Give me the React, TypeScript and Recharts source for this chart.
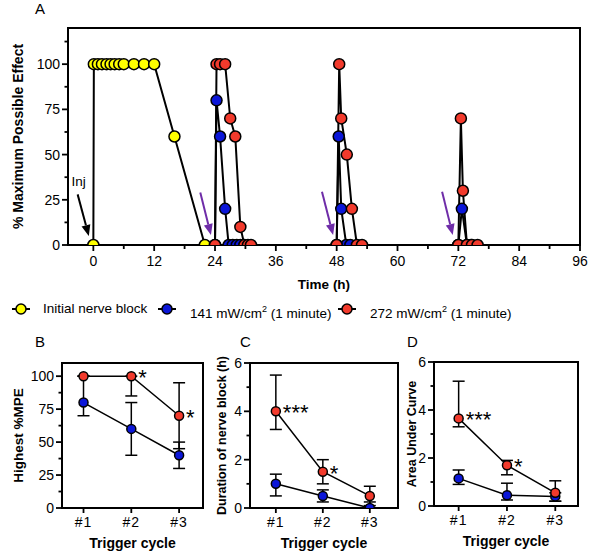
import React from 'react';
import {
  LineChart,
  Line,
  XAxis,
  YAxis,
  ReferenceArea,
  ReferenceLine,
  ErrorBar,
  LabelList,
} from 'recharts';

const YELLOW = '#ffff00';
const BLUE = '#0b16d8';
const RED = '#f23a2c';
const PURPLE = '#6f2da8';

// panel A: time courses (h, %MPE)
const yellowT = [0, 0.1, 0.9, 1.7, 2.6, 3.4, 4.2, 5.1, 6, 8, 10, 12, 16, 22];
const yellowV = [0, 100, 100, 100, 100, 100, 100, 100, 100, 100, 100, 100, 60, 0];

const blueT = [24, 24.3, 25, 26, 26.7, 27.5, 28.3, 29, 38, 48, 48.4, 48.9, 49.9, 50.7, 60, 72, 72.7, 73.7, 74.5];
const blueV = [0, 80, 60, 20, 0, 0, 0, 0, null, 0, 60, 20, 0, 0, null, 0, 20, 0, 0];

const redT = [24, 24.3, 25, 26, 27, 28, 29, 29.8, 30.5, 31.1, 40, 48, 48.5, 48.9, 50, 51, 52, 53, 62, 72, 72.5, 72.9, 73.7, 74.7, 75.8];
const redV = [0, 100, 100, 100, 70, 60, 10, 0, 0, 0, null, 0, 100, 70, 50, 20, 0, 0, null, 0, 70, 30, 0, 0, 0];

const timeTicks = [0, 6, 12, 18, 24, 30, 36, 42, 48, 54, 60, 66, 72, 78, 84, 90, 96];
const mpeTicks = [0, 12.5, 25, 37.5, 50, 62.5, 75, 87.5, 100, 112.5];

// arrows: [t start, %MPE start, t end, %MPE end]
const injArrow = [-3.1, 28, -0.9, 5];
const triggerArrows = [
  [21.1, 29, 23.2, 5.5],
  [45.1, 29.4, 47.3, 5.5],
  [68.8, 29.4, 70.9, 5.5],
];

// panels B-D: per trigger cycle
const cycles = [1, 2, 3];

const highestRed = [100, 100, 70];
const highestRedErr = [[0, 0], [15, 0], [25, 25]];
const highestBlue = [80, 60, 40];
const highestBlueErr = [[10, 20], [20, 20], [10, 10]];
const highestSig = ['', '*', '*'];

const durationRed = [4, 1.5, 0.5];
const durationRedErr = [[0.75, 1.5], [0.5, 0.5], [0.4, 0.4]];
const durationBlue = [1, 0.5, 0];
const durationBlueErr = [[0.5, 0.4], [0.25, 0.25], [0, 0.25]];
const durationSig = ['***', '*', ''];

const aucRed = [3.65, 1.7, 0.55];
const aucRedErr = [[0.35, 1.55], [0.4, 0.2], [0.35, 0.5]];
const aucBlue = [1.15, 0.45, 0.4];
const aucBlueErr = [[0.25, 0.35], [0.2, 0.5], [0.2, 0.15]];
const aucSig = ['***', '*', ''];

const toSeries = (t: number[], v: (number | null)[]) => t.map((x, i) => ({ t: x, v: v[i] }));

const buildPanel = (
  red: number[],
  redErr: number[][],
  blue: number[],
  blueErr: number[][],
  sig: string[],
) =>
  cycles.map((c, i) => ({
    cycle: c,
    red: red[i],
    redErr: redErr[i],
    blue: blue[i],
    blueErr: blueErr[i],
    sig: sig[i],
  }));

const makeYTick = (isMajor: (v: number) => boolean, fontSize: number) => (p: any) => {
  const { x, y, payload } = p;
  const major = isMajor(payload.value);
  return (
    <g>
      <line x1={x} y1={y} x2={x - (major ? 6 : 3.5)} y2={y} stroke="#000" strokeWidth={1.8} />
      {major && (
        <text x={x - 8} y={y} dy={5} textAnchor="end" fontSize={fontSize} fill="#000">
          {payload.value}
        </text>
      )}
    </g>
  );
};

const TimeTick = (p: any) => {
  const { x, y, payload } = p;
  const major = payload.value % 12 === 0;
  return (
    <g>
      <line x1={x} y1={y} x2={x} y2={y + (major ? 6 : 4)} stroke="#000" strokeWidth={1.8} />
      {major && (
        <text x={x} y={y + 21} textAnchor="middle" fontSize={14} fill="#000">
          {payload.value}
        </text>
      )}
    </g>
  );
};

const CycleTick = (p: any) => {
  const { x, y, payload } = p;
  return (
    <g>
      <line x1={x} y1={y} x2={x} y2={y + 5} stroke="#000" strokeWidth={1.8} />
      <text x={x} y={y + 19} textAnchor="middle" fontSize={14} letterSpacing={1} fill="#000">
        {`#${payload.value}`}
      </text>
    </g>
  );
};

const arrowShape = (color: string, text?: string) => (p: any) => {
  const { x1, y1, x2, y2 } = p;
  const a = Math.atan2(y2 - y1, x2 - x1);
  const len = 11;
  const half = 4.5;
  const bx = x2 - len * Math.cos(a);
  const by = y2 - len * Math.sin(a);
  const px = -Math.sin(a) * half;
  const py = Math.cos(a) * half;
  return (
    <g>
      <line x1={x1} y1={y1} x2={bx} y2={by} stroke={color} strokeWidth={2} />
      <polygon points={`${x2},${y2} ${bx + px},${by + py} ${bx - px},${by - py}`} fill={color} />
      {text && (
        <text x={x1 + 1} y={y1 - 8} textAnchor="middle" fontSize={13.5} fill="#000">
          {text}
        </text>
      )}
    </g>
  );
};

const StarLabel = (p: any) => {
  const { value } = p;
  const x = p.x ?? p.viewBox?.x;
  const y = p.y ?? p.viewBox?.y;
  if (!value) return null;
  return (
    <text x={x + 7} y={y + 9} fontSize={22} fill="#000">
      {value}
    </text>
  );
};

const dotStyle = (fill: string, r: number) => ({ r, fill, stroke: '#000', strokeWidth: 1.5 });

const PanelA = () => (
  <LineChart width={600} height={300} margin={{ top: 28, right: 20, bottom: 11, left: 0 }}>
    <XAxis
      type="number"
      dataKey="t"
      domain={[-5, 96]}
      ticks={timeTicks}
      interval={0}
      tickSize={0}
      tickMargin={0}
      axisLine={false}
      tick={TimeTick}
      height={44}
      allowDataOverflow
      label={{ value: 'Time (h)', position: 'insideBottom', offset: 0, style: { fontWeight: 700, fontSize: 13.5, fill: '#000' } }}
    />
    <YAxis
      type="number"
      domain={[0, 120]}
      ticks={mpeTicks}
      interval={0}
      tickSize={0}
      tickMargin={0}
      axisLine={false}
      tick={makeYTick((v) => v % 25 === 0, 14)}
      width={68}
      allowDataOverflow
      label={{
        value: '% Maximum Possible Effect',
        angle: -90,
        position: 'insideLeft',
        offset: 18,
        style: { textAnchor: 'middle', fontWeight: 700, fontSize: 14, fill: '#000' },
      }}
    />
    <ReferenceArea x1={-5} x2={96} y1={0} y2={120} fill="none" stroke="#000" strokeWidth={2} ifOverflow="visible" />
    <Line data={toSeries(yellowT, yellowV)} dataKey="v" stroke="#000" strokeWidth={2} dot={dotStyle(YELLOW, 5.5)} isAnimationActive={false} />
    <Line data={toSeries(blueT, blueV)} dataKey="v" stroke="#000" strokeWidth={2} dot={dotStyle(BLUE, 5.5)} isAnimationActive={false} />
    <Line data={toSeries(redT, redV)} dataKey="v" stroke="#000" strokeWidth={2} dot={dotStyle(RED, 5.5)} isAnimationActive={false} />
    <ReferenceLine
      segment={[{ x: injArrow[0], y: injArrow[1] }, { x: injArrow[2], y: injArrow[3] }]}
      shape={arrowShape('#000', 'Inj')}
      ifOverflow="visible"
    />
    {triggerArrows.map((a, i) => (
      <ReferenceLine
        key={i}
        segment={[{ x: a[0], y: a[1] }, { x: a[2], y: a[3] }]}
        shape={arrowShape(PURPLE)}
        ifOverflow="visible"
      />
    ))}
  </LineChart>
);

type PanelProps = {
  data: any[];
  width: number;
  height: number;
  margin: { top: number; right: number; bottom: number; left: number };
  xDomain: number[];
  yDomain: number[];
  yTicks: number[];
  yMajor: (v: number) => boolean;
  yWidth: number;
  yTitle: string;
  yTitleSize: number;
  yTitleOffset: number;
};

const CyclePanel = ({ data, width, height, margin, xDomain, yDomain, yTicks, yMajor, yWidth, yTitle, yTitleSize, yTitleOffset }: PanelProps) => (
  <LineChart width={width} height={height} data={data} margin={margin}>
    <XAxis
      type="number"
      dataKey="cycle"
      domain={xDomain}
      ticks={cycles}
      interval={0}
      tickSize={0}
      tickMargin={0}
      axisLine={false}
      tick={CycleTick}
      height={40}
      allowDataOverflow
      label={{ value: 'Trigger cycle', position: 'insideBottom', offset: 0, style: { fontWeight: 700, fontSize: 14, fill: '#000' } }}
    />
    <YAxis
      type="number"
      domain={yDomain}
      ticks={yTicks}
      interval={0}
      tickSize={0}
      tickMargin={0}
      axisLine={false}
      tick={makeYTick(yMajor, 14)}
      width={yWidth}
      allowDataOverflow
      label={{
        value: yTitle,
        angle: -90,
        position: 'insideLeft',
        offset: yTitleOffset,
        style: { textAnchor: 'middle', fontWeight: 700, fontSize: yTitleSize, fill: '#000' },
      }}
    />
    <ReferenceArea x1={xDomain[0]} x2={xDomain[1]} y1={yDomain[0]} y2={yDomain[1]} fill="none" stroke="#000" strokeWidth={2} ifOverflow="visible" />
    <Line dataKey="blue" stroke="#000" strokeWidth={1.5} dot={dotStyle(BLUE, 4.5)} isAnimationActive={false}>
      <ErrorBar dataKey="blueErr" direction="y" width={6} stroke="#000" strokeWidth={1.5} />
    </Line>
    <Line dataKey="red" stroke="#000" strokeWidth={1.5} dot={dotStyle(RED, 4.5)} isAnimationActive={false}>
      <ErrorBar dataKey="redErr" direction="y" width={6} stroke="#000" strokeWidth={1.5} />
      <LabelList dataKey="sig" content={StarLabel} />
    </Line>
  </LineChart>
);

const LegendIcon = ({ color }: { color: string }) => (
  <svg width={20} height={14} style={{ display: 'block' }}>
    <line x1={1} y1={7} x2={19} y2={7} stroke="#000" strokeWidth={2} />
    <circle cx={10} cy={7} r={5} fill={color} stroke="#000" strokeWidth={1.5} />
  </svg>
);

const legendItems = [
  { color: YELLOW, label: <>Initial nerve block</>, icon: 11, text: 43 },
  { color: BLUE, label: <>141 mW/cm<sup style={{ fontSize: 9 }}>2</sup> (1 minute)</>, icon: 157, text: 190 },
  { color: RED, label: <>272 mW/cm<sup style={{ fontSize: 9 }}>2</sup> (1 minute)</>, icon: 337, text: 370 },
];

const letter = (ch: string, left: number, top: number) => (
  <div style={{ position: 'absolute', left, top, fontSize: 15 }}>{ch}</div>
);

export default function App() {
  return (
    <div
      style={{
        position: 'fixed',
        left: 0,
        top: 0,
        width: 600,
        height: 555,
        background: '#fff',
        fontFamily: '"Liberation Sans", Arial, sans-serif',
        color: '#000',
      }}
    >
      {letter('A', 35, 0)}
      {letter('B', 35, 333)}
      {letter('C', 240, 333)}
      {letter('D', 407, 333)}
      <div style={{ position: 'absolute', left: 0, top: 0 }}>
        <PanelA />
      </div>
      {legendItems.map((it, i) => (
        <React.Fragment key={i}>
          <div style={{ position: 'absolute', left: it.icon, top: 302 }}>
            <LegendIcon color={it.color} />
          </div>
          <div style={{ position: 'absolute', left: it.text, top: 300, fontSize: 13.5, lineHeight: '18px', whiteSpace: 'nowrap' }}>
            {it.label}
          </div>
        </React.Fragment>
      ))}
      <div style={{ position: 'absolute', left: 0, top: 330 }}>
        <CyclePanel
          data={buildPanel(highestRed, highestRedErr, highestBlue, highestBlueErr, highestSig)}
          width={210}
          height={225}
          margin={{ top: 33, right: 7, bottom: 7, left: 0 }}
          xDomain={[0.55, 3.5]}
          yDomain={[0, 110]}
          yTicks={[0, 12.5, 25, 37.5, 50, 62.5, 75, 87.5, 100]}
          yMajor={(v) => v % 25 === 0}
          yWidth={62}
          yTitle="Highest %MPE"
          yTitleSize={13.5}
          yTitleOffset={18}
        />
      </div>
      <div style={{ position: 'absolute', left: 200, top: 330 }}>
        <CyclePanel
          data={buildPanel(durationRed, durationRedErr, durationBlue, durationBlueErr, durationSig)}
          width={200}
          height={225}
          margin={{ top: 33, right: 2, bottom: 7, left: 0 }}
          xDomain={[0.45, 3.6]}
          yDomain={[0, 6]}
          yTicks={[0, 1, 2, 3, 4, 5, 6]}
          yMajor={(v) => v % 2 === 0}
          yWidth={50}
          yTitle="Duration of nerve block (h)"
          yTitleSize={12.5}
          yTitleOffset={22}
        />
      </div>
      <div style={{ position: 'absolute', left: 395, top: 330 }}>
        <CyclePanel
          data={buildPanel(aucRed, aucRedErr, aucBlue, aucBlueErr, aucSig)}
          width={205}
          height={225}
          margin={{ top: 32, right: 22, bottom: 9, left: 0 }}
          xDomain={[0.49, 3.47]}
          yDomain={[0, 6]}
          yTicks={[0, 1, 2, 3, 4, 5, 6]}
          yMajor={(v) => v % 2 === 0}
          yWidth={39}
          yTitle="Area Under Curve"
          yTitleSize={12.5}
          yTitleOffset={17}
        />
      </div>
    </div>
  );
}
